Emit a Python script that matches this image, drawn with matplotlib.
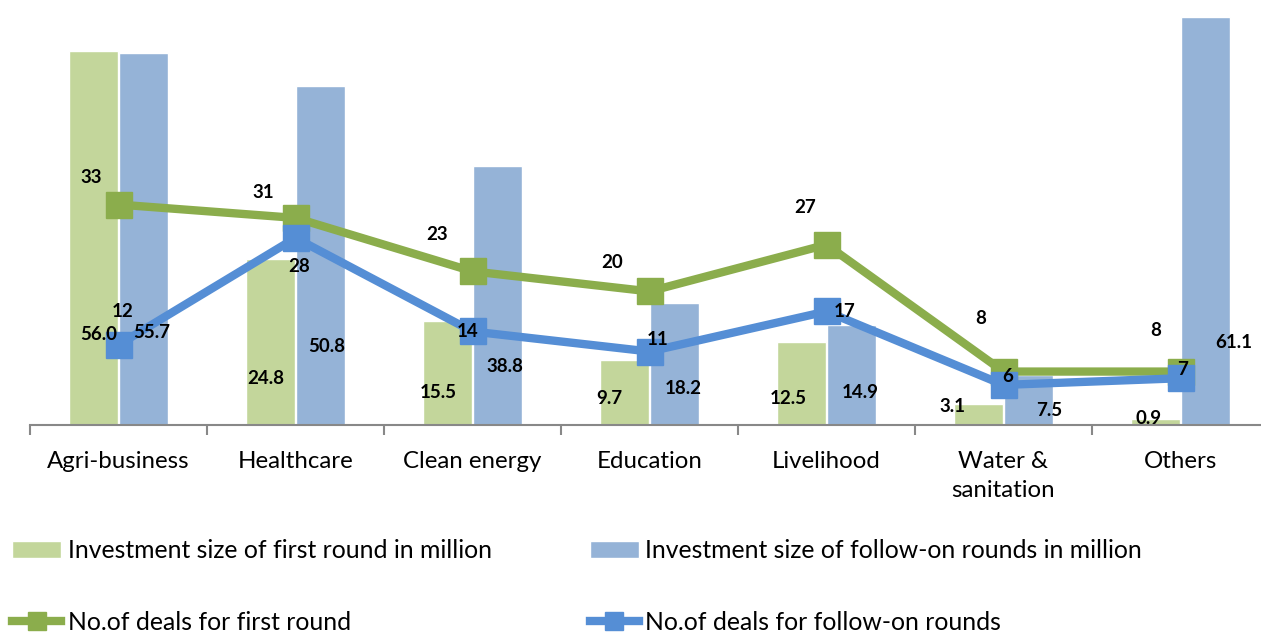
import numpy as np
import matplotlib
matplotlib.use("Agg")
import matplotlib.pyplot as plt
from matplotlib.patches import Patch
from matplotlib.lines import Line2D

plt.rcParams['font.family'] = ['Lato', 'DejaVu Sans']

# data
categories = ["Agri-business", "Healthcare", "Clean energy", "Education",
              "Livelihood", "Water &\nsanitation", "Others"]
first_size = [56.0, 24.8, 15.5, 9.7, 12.5, 3.1, 0.9]
follow_size = [55.7, 50.8, 38.8, 18.2, 14.9, 7.5, 61.1]
first_deals = [33, 31, 23, 20, 27, 8, 8]
follow_deals = [12, 28, 14, 11, 17, 6, 7]

# label placement (pixel offsets, like the manually moved excel labels)
first_size_off = [(5, 90), (-5, 46), (-9, 33), (-15, 26), (-13, 26), (-26, 18), (-7, 6)]
follow_size_off = [(8, 93), (6, 78), (7, 59), (9, 37), (9, 33), (21, 15), (28, 83)]
first_deals_off = [(-27, 27), (-32, 25), (-35, 37), (-37, 29), (-21, 37), (-23, 53), (-25, 41)]
follow_deals_off = [(4, 33), (4, -29), (-5, 0), (8, 12), (18, 0), (4, 8), (2, 9)]

LIGHT_GREEN = "#C3D69B"
LIGHT_BLUE = "#95B3D7"
GREEN = "#8BAD4C"
BLUE = "#558ED5"

W, H = 1261, 633


def main():
    fig = plt.figure(figsize=(W / 100, H / 100), dpi=100)
    # axes bottom sits on pixel row 425, one category is 177 px wide
    ax = fig.add_axes([30 / W, 1 - 425 / H, 7 * 177 / W, 70 * 6.68 / H])
    ax.set_xlim(-0.5, 6.5)
    ax.set_ylim(0, 70)

    x = np.arange(len(categories))
    bw = 0.277
    ax.bar(x - 0.142, first_size, bw, color=LIGHT_GREEN,
           edgecolor="white", linewidth=1, zorder=2)
    ax.bar(x + 0.142, follow_size, bw, color=LIGHT_BLUE,
           edgecolor="white", linewidth=1, zorder=2)

    ax.plot(x, first_deals, color=GREEN, lw=6, marker="s", ms=19, zorder=3)
    ax.plot(x, follow_deals, color=BLUE, lw=6, marker="s", ms=19, zorder=4)

    lab = dict(fontsize=13.5, fontweight="bold", color="black",
               ha="center", va="center", textcoords="offset pixels", zorder=6)
    for i in x:
        ax.annotate(f"{first_size[i]:.1f}", (x[i] - 0.142, 0),
                    xytext=first_size_off[i], **lab)
        ax.annotate(f"{follow_size[i]:.1f}", (x[i] + 0.142, 0),
                    xytext=follow_size_off[i], **lab)
        ax.annotate(str(first_deals[i]), (x[i], first_deals[i]),
                    xytext=first_deals_off[i], **lab)
        ax.annotate(str(follow_deals[i]), (x[i], follow_deals[i]),
                    xytext=follow_deals_off[i], **lab)

    # axis styling
    for s in ["top", "right", "left"]:
        ax.spines[s].set_visible(False)
    ax.spines["bottom"].set_color("#888888")
    ax.spines["bottom"].set_linewidth(1.5)
    ax.set_yticks([])
    ax.set_xticks(np.arange(-0.5, 7, 1))
    ax.set_xticklabels([])
    ax.tick_params(axis="x", which="major", length=7, width=1.5,
                   color="#888888", direction="out")
    ax.set_xticks(x, minor=True)
    ax.set_xticklabels(categories, minor=True, fontsize=17.3, va="top",
                       linespacing=1.45)
    ax.tick_params(axis="x", which="minor", length=0, pad=19)

    handles = [
        Patch(facecolor=LIGHT_GREEN, edgecolor="white"),
        Line2D([], [], color=GREEN, lw=6, marker="s", ms=13),
        Patch(facecolor=LIGHT_BLUE, edgecolor="white"),
        Line2D([], [], color=BLUE, lw=6, marker="s", ms=13),
    ]
    labels = ["Investment size of first round in million",
              "No.of deals for first round",
              "Investment size of follow-on rounds in million",
              "No.of deals for follow-on rounds"]
    fig.legend(handles, labels, ncol=2, loc="upper left",
               bbox_to_anchor=(12 / W, 1 - 539 / H), frameon=False,
               fontsize=17.8, handlelength=2.0, handleheight=0.65,
               handletextpad=0.25, labelspacing=1.97, columnspacing=3.97,
               borderaxespad=0, borderpad=0)

    fig.savefig("out.png", dpi=100)


if __name__ == '__main__':
    main()
